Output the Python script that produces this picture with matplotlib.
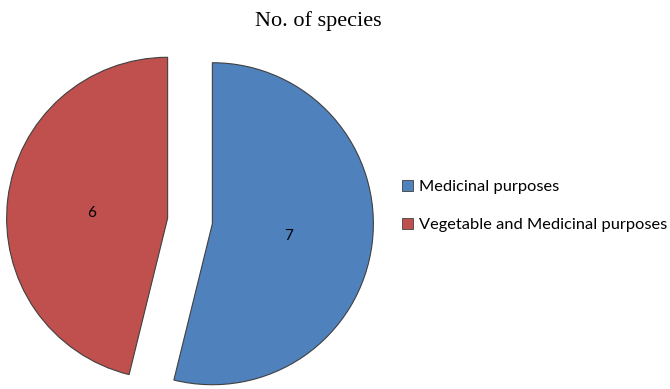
import matplotlib.pyplot as plt
from matplotlib.patches import Patch

# Datos del gráfico
categorias = ['Medicinal purposes', 'Vegetable and Medicinal purposes']
especies = [7, 6]
colores = ['#4F81BD', '#C0504D']

fig = plt.figure(figsize=(6.7, 3.89), dpi=100)
ax = fig.add_axes([0, 0, 1, 1])

# Centro y radio del pastel en píxeles
cx, cy, r = 190, 221, 161

wedges, textos = ax.pie(especies, colors=colores, startangle=90, counterclock=False,
                        explode=[0.14, 0.14], labels=[str(v) for v in especies],
                        labeldistance=0.45, radius=1,
                        wedgeprops=dict(edgecolor='#404040', linewidth=0.8),
                        textprops=dict(fontsize=11, family='Lato'))
for t in textos:
    t.set_y(t.get_position()[1] - 0.02)
ax.set_xlim(-cx / r, (670 - cx) / r)
ax.set_ylim(-(389 - cy) / r, cy / r)
ax.set_aspect('equal')
ax.axis('off')

fig.text(318 / 670, 1 - 21 / 389, 'No. of species', ha='center', va='center',
         fontsize=16, family='Liberation Serif')

handles = [Patch(facecolor=c, edgecolor='#404040', linewidth=0.6) for c in colores]
fig.legend(handles, categorias, loc='center left', bbox_to_anchor=(391 / 670, 1 - 206 / 389),
           frameon=False, handlelength=0.65, handleheight=0.65, handletextpad=0.35,
           labelspacing=1.45, borderpad=0.2, prop=dict(family='Lato', size=11.8))

fig.savefig('out.png', dpi=100)
